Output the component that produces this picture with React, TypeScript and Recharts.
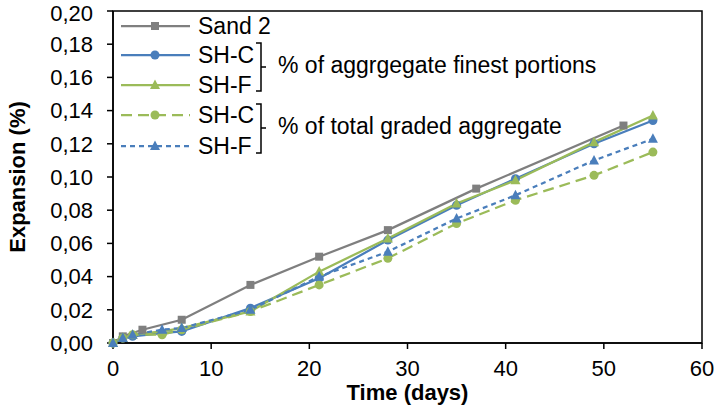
import React from "react";
import { LineChart, Line, XAxis, YAxis, ReferenceArea } from "recharts";

// days / expansion (%)
const sandDays = [0, 1, 3, 7, 14, 21, 28, 37, 52];
const sandExp = [0, 0.004, 0.008, 0.014, 0.035, 0.052, 0.068, 0.093, 0.131];

const shDays = [0, 1, 2, 5, 7, 14, 21, 28, 35, 41, 49, 55];
const shcFine = [0, 0.003, 0.004, 0.006, 0.007, 0.021, 0.039, 0.062, 0.083, 0.099, 0.12, 0.134];
const shfFine = [0, 0.003, 0.005, 0.007, 0.009, 0.019, 0.043, 0.063, 0.084, 0.098, 0.121, 0.137];
const shcTotal = [0, 0.003, 0.005, 0.005, 0.008, 0.019, 0.035, 0.051, 0.072, 0.086, 0.101, 0.115];
const shfTotal = [0, 0.003, 0.005, 0.008, 0.009, 0.02, 0.04, 0.055, 0.075, 0.089, 0.11, 0.123];

const xTicks = [0, 10, 20, 30, 40, 50, 60];
const yTicks = [0, 0.02, 0.04, 0.06, 0.08, 0.1, 0.12, 0.14, 0.16, 0.18, 0.2];

const groupLabels = ["% of aggrgegate finest portions", "% of total graded aggregate"];

const GRAY = "#7f7f7f";
const BLUE = "#4a7ebb";
const GREEN = "#9bbb59";
const FONT = "'Liberation Sans', Arial, sans-serif";

const toRows = (days: number[], vals: number[]) => days.map((d, i) => ({ day: d, value: vals[i] }));

const series = [
  { name: "Sand 2", data: toRows(sandDays, sandExp), color: GRAY, shape: "square", dash: undefined },
  { name: "SH-C", data: toRows(shDays, shcFine), color: BLUE, shape: "circle", dash: undefined },
  { name: "SH-F", data: toRows(shDays, shfFine), color: GREEN, shape: "triangle", dash: undefined },
  { name: "SH-C", data: toRows(shDays, shcTotal), color: GREEN, shape: "circle", dash: "11 6" },
  { name: "SH-F", data: toRows(shDays, shfTotal), color: BLUE, shape: "triangle", dash: "5 4" },
];

const Marker = ({ cx, cy, shape, color }: any) => {
  if (cx == null || cy == null) return null;
  if (shape === "square") {
    return <rect x={cx - 4} y={cy - 4} width={8} height={8} fill={color} />;
  }
  if (shape === "triangle") {
    return <path d={`M${cx},${cy - 5.5} L${cx + 5},${cy + 4} L${cx - 5},${cy + 4} Z`} fill={color} />;
  }
  return <circle cx={cx} cy={cy} r={4.5} fill={color} />;
};

const legendRows = [26, 55, 85, 115, 146];

const LegendBlock = () => (
  <g fontFamily={FONT} fontSize={23}>
    {series.map((s, i) => (
      <g key={i}>
        <line x1={121} x2={190} y1={legendRows[i]} y2={legendRows[i]} stroke={s.color} strokeWidth={2.25} strokeDasharray={s.dash} />
        <Marker cx={155} cy={legendRows[i]} shape={s.shape} color={s.color} />
        <text x={198} y={legendRows[i]} dominantBaseline="central" fill="#000">
          {s.name}
        </text>
      </g>
    ))}
    {[
      [43, 91, 67],
      [104, 153, 128],
    ].map(([top, bot, mid], i) => (
      <g key={"b" + i}>
        <path
          d={`M256,${top} H261 V${bot} H256 M261,${mid} H266`}
          fill="none"
          stroke="#000"
          strokeWidth={1.5}
        />
        <text x={278} y={mid - 2} dominantBaseline="central" fill="#000">
          {groupLabels[i]}
        </text>
      </g>
    ))}
  </g>
);

const YTitle = ({ viewBox }: any) => {
  const cy = viewBox.y + viewBox.height / 2;
  return (
    <text
      x={17}
      y={cy}
      transform={`rotate(-90, 17, ${cy})`}
      textAnchor="middle"
      dominantBaseline="central"
      fontFamily={FONT}
      fontSize={22}
      fontWeight="bold"
      fill="#000"
    >
      Expansion (%)
    </text>
  );
};

const XTitle = ({ viewBox }: any) => {
  const cx = viewBox.x + viewBox.width / 2;
  return (
    <text
      x={cx}
      y={392}
      textAnchor="middle"
      dominantBaseline="central"
      fontFamily={FONT}
      fontSize={22}
      fontWeight="bold"
      fill="#000"
    >
      Time (days)
    </text>
  );
};

export default function App() {
  const tickStyle = { fill: "#000", fontSize: 22, fontFamily: FONT };
  return (
    <div style={{ position: "absolute", left: 0, top: 0, width: 716, height: 405, background: "#fff" }}>
      <LineChart width={716} height={405} margin={{ top: 11, right: 14, left: 0, bottom: 0 }}>
        <ReferenceArea x1={0} x2={60} y1={0} y2={0.2} fill="none" stroke="#000" strokeWidth={1.5} />
        <XAxis
          dataKey="day"
          type="number"
          domain={[0, 60]}
          ticks={xTicks}
          height={62}
          tick={tickStyle}
          tickSize={6}
          tickMargin={11}
          stroke="#000"
          strokeWidth={1.5}
          allowDuplicatedCategory={false}
          label={<XTitle />}
        />
        <YAxis
          domain={[0, 0.2]}
          ticks={yTicks}
          width={113}
          tick={tickStyle}
          tickSize={6}
          tickMargin={14}
          stroke="#000"
          strokeWidth={1.5}
          tickFormatter={(v: number) => v.toFixed(2).replace(".", ",")}
          label={<YTitle />}
        />
        <LegendBlock />
        {series.map((s, i) => (
          <Line
            key={i}
            data={s.data}
            dataKey="value"
            type="linear"
            stroke={s.color}
            strokeWidth={2.25}
            strokeDasharray={s.dash}
            dot={(p: any) => <Marker key={p.index} cx={p.cx} cy={p.cy} shape={s.shape} color={s.color} />}
            activeDot={false}
            isAnimationActive={false}
          />
        ))}
      </LineChart>
    </div>
  );
}
